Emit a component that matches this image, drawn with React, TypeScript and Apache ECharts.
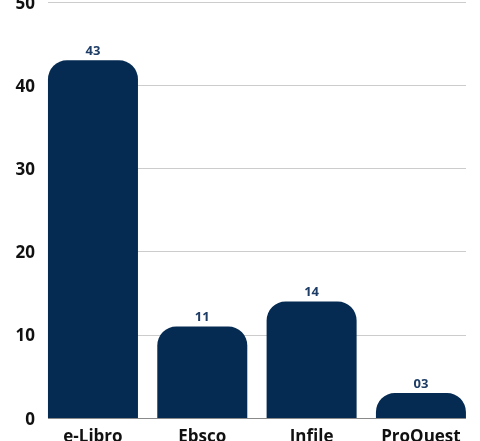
import React, { useEffect, useRef } from "react";
import * as echarts from "echarts";

const categories = ["e-Libro", "Ebsco", "Infile", "ProQuest"];
const values = [43, 11, 14, 3];
const yTicks = [0, 10, 20, 30, 40, 50];

export default function App() {
  const ref = useRef<HTMLDivElement>(null);
  useEffect(() => {
    if (!ref.current) return;
    const chart = echarts.init(ref.current, undefined, { renderer: "svg" });
    const font = "'Open Sans', sans-serif";
    chart.setOption({
      animation: false,
      grid: [
        { left: 48, right: 14, top: 2, bottom: 23, outerBoundsMode: "none", containLabel: false },
        { left: 38.3, right: 4.4, top: 2, bottom: 23, outerBoundsMode: "none", containLabel: false },
      ],
      xAxis: [
        { type: "category", gridIndex: 0, data: categories, show: false },
        {
          type: "category",
          gridIndex: 1,
          data: categories,
          axisLine: { show: false },
          axisTick: { show: false },
          axisLabel: {
            color: "#111",
            fontFamily: font,
            fontWeight: "bold",
            fontSize: 17,
            margin: 9,
          },
        },
      ],
      yAxis: [
        {
          type: "value",
          gridIndex: 0,
          min: yTicks[0],
          max: yTicks[yTicks.length - 1],
          interval: 10,
          axisLine: { show: false },
          axisTick: { show: false },
          axisLabel: {
            color: "#111",
            fontFamily: font,
            fontWeight: "bold",
            fontSize: 17,
            margin: 13,
          },
          splitLine: {
            lineStyle: { color: "#cccccc", width: 1 },
          },
        },
        {
          type: "value",
          gridIndex: 1,
          min: yTicks[0],
          max: yTicks[yTicks.length - 1],
          interval: 10,
          show: false,
          splitLine: { show: false },
        },
      ],
      series: [
        {
          type: "line",
          xAxisIndex: 0,
          yAxisIndex: 0,
          data: [],
          markLine: {
            silent: true,
            symbol: "none",
            label: { show: false },
            lineStyle: { color: "#8a8a8a", type: "solid", width: 1 },
            data: [{ yAxis: 0 }],
          },
        },
        {
          type: "bar",
          xAxisIndex: 1,
          yAxisIndex: 1,
          data: values,
          barWidth: 90,
          itemStyle: { color: "#052b53", borderRadius: [19, 19, 0, 0] },
          label: {
            show: true,
            position: "top",
            distance: 4,
            color: "#1d3c66",
            fontFamily: font,
            fontWeight: "bold",
            fontSize: 13,
            formatter: (p: any) => String(p.value).padStart(2, "0"),
          },
        },
      ],
    });
    return () => chart.dispose();
  }, []);
  return <div ref={ref} style={{ width: 480, height: 441, position: "fixed", left: 0, top: 0 }} />;
}
